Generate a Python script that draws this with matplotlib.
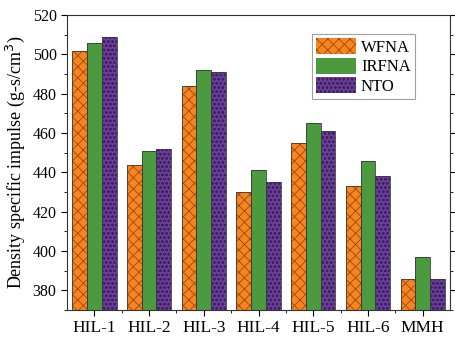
import numpy as np
import matplotlib
matplotlib.use('Agg')
from matplotlib import pyplot as plt
from matplotlib.ticker import MultipleLocator, FixedLocator

# =============================================================================
# DATA
# =============================================================================
fuels = ['HIL-1', 'HIL-2', 'HIL-3', 'HIL-4', 'HIL-5', 'HIL-6', 'MMH']
wfna = [502, 444, 484, 430, 455, 433, 386]
irfna = [506, 451, 492, 441, 465, 446, 397]
nto = [509, 452, 491, 435, 461, 438, 386]

series = [('WFNA', wfna, '#f7841f', '#9a4a10', 'xxx'),
          ('IRFNA', irfna, '#4c9a3f', '#2f6d27', ''),
          ('NTO', nto, '#6b3f98', '#3c2164', 'oooo')]

# =============================================================================
# PLOT
# =============================================================================
plt.rcParams['font.family'] = ['Liberation Serif', 'DejaVu Serif']
plt.rcParams['hatch.linewidth'] = 0.6

fig = plt.figure(figsize=(4.56, 3.37), dpi=100)
ax = fig.add_axes([0.147, 0.080, 0.840, 0.875])

x = np.arange(len(fuels))
w = 0.27
for i, (name, vals, fc, hc, hatch) in enumerate(series):
    pos = x + (i - 1) * w
    ax.bar(pos, vals, w, bottom=0, color=fc, edgecolor=hc, hatch=hatch,
           linewidth=0, label=name, zorder=2)
    ax.bar(pos, vals, w, bottom=0, facecolor='none', edgecolor='#3a3a3a',
           linewidth=0.6, zorder=3)

ax.set_xlim(-0.5, len(fuels) - 0.5)
ax.set_ylim(370, 520)
ax.set_xticks(x)
ax.set_xticklabels(fuels)
ax.xaxis.set_minor_locator(FixedLocator(x[:-1] + 0.5))
ax.yaxis.set_major_locator(MultipleLocator(20))
ax.yaxis.set_minor_locator(MultipleLocator(10))
ax.tick_params(axis='y', which='both', direction='out', labelsize=11.5)
ax.tick_params(axis='y', which='both', right=True)
ax.tick_params(axis='x', which='both', direction='out', labelsize=12.5, pad=3)
ax.tick_params(which='major', length=4, width=0.8)
ax.tick_params(which='minor', length=2, width=0.6)
ax.set_ylabel('Density specific impulse (g-s/cm$^3$)', fontsize=13, labelpad=4)
for s in ax.spines.values():
    s.set_color('#333333')
    s.set_linewidth(0.8)

leg = ax.legend(loc='upper right', bbox_to_anchor=(0.908, 0.936), fontsize=12,
                fancybox=False, edgecolor='#888888', handlelength=2.4,
                handleheight=1.1, borderpad=0.25, labelspacing=0.1,
                handletextpad=0.3, borderaxespad=0)
leg.get_frame().set_linewidth(0.8)

plt.savefig('out.png', dpi=100)
